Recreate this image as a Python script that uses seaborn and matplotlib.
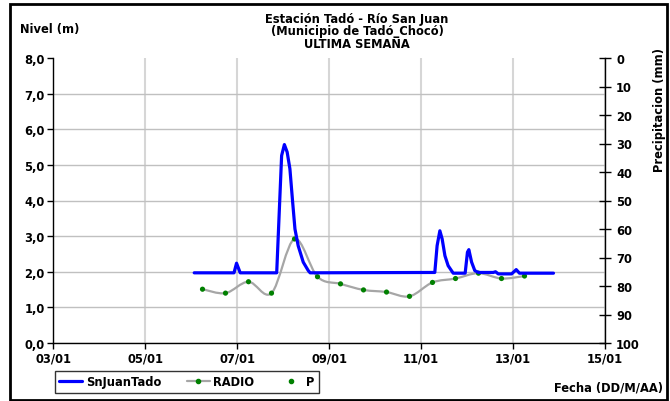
import matplotlib
matplotlib.use("Agg")
import matplotlib.pyplot as plt
import seaborn as sns
from matplotlib.lines import Line2D
from matplotlib.patches import PathPatch, Rectangle
from matplotlib.path import Path
from matplotlib.ticker import FuncFormatter

# nivel SnJuanTado (dia de enero, metros)
sn_dias = [6.07, 6.935, 6.99, 7.07, 7.863, 7.97, 8.03, 8.09, 8.15, 8.21, 8.26, 8.33,
           8.44, 8.55, 8.59, 11.30, 11.35, 11.41, 11.46, 11.52, 11.59, 11.70, 11.96,
           12.01, 12.04, 12.10, 12.17, 12.25, 12.57, 12.62, 12.68, 12.97, 13.07,
           13.14, 13.88]
sn_nivel = [1.97, 1.97, 2.24, 1.97, 1.97, 5.26, 5.57, 5.36, 4.89, 3.95, 3.20, 2.73,
            2.27, 2.03, 1.97, 1.98, 2.73, 3.15, 2.92, 2.45, 2.17, 1.96, 1.96,
            2.55, 2.62, 2.27, 2.03, 1.98, 1.98, 2.00, 1.94, 1.94, 2.06,
            1.96, 1.96]

# nivel RADIO
radio_dias = [6.25, 6.75, 7.25, 7.75, 8.25, 8.75, 9.25, 9.75, 10.25, 10.75,
              11.25, 11.75, 12.25, 12.75, 13.25]
radio_nivel = [1.51, 1.40, 1.72, 1.40, 2.92, 1.86, 1.66, 1.49, 1.43, 1.31,
               1.70, 1.81, 1.96, 1.81, 1.88]

x_ticks = [3, 5, 7, 9, 11, 13, 15]
x_labels = ["03/01", "05/01", "07/01", "09/01", "11/01", "13/01", "15/01"]
precip_ticks = [0, 10, 20, 30, 40, 50, 60, 70, 80, 90, 100]

sns.set_style("white")
plt.rcParams["font.family"] = ["DejaVu Sans"]
plt.rcParams["font.weight"] = "bold"
plt.rcParams["text.color"] = "black"
plt.rcParams["xtick.color"] = "black"
plt.rcParams["ytick.color"] = "black"
fs = 8.3

fig = plt.figure(figsize=(6.7, 4.02), dpi=100)
ax = fig.add_axes([53 / 670, 1 - 344 / 402, 552 / 670, 285 / 402])


def smooth_path(xs, ys):
    # curva suavizada tipo Excel (Catmull-Rom a Bezier)
    pts = list(zip(xs, ys))
    verts = [pts[0]]
    codes = [Path.MOVETO]
    n = len(pts)
    for i in range(n - 1):
        p0 = pts[i - 1] if i > 0 else pts[i]
        p1 = pts[i]
        p2 = pts[i + 1]
        p3 = pts[i + 2] if i + 2 < n else pts[i + 1]
        c1 = (p1[0] + (p2[0] - p0[0]) / 6, p1[1] + (p2[1] - p0[1]) / 6)
        c2 = (p2[0] - (p3[0] - p1[0]) / 6, p2[1] - (p3[1] - p1[1]) / 6)
        verts += [c1, c2, p2]
        codes += [Path.CURVE4] * 3
    return Path(verts, codes)


ax.add_patch(PathPatch(smooth_path(radio_dias, radio_nivel), fill=False,
                       edgecolor="#a6a6a6", lw=1.6, zorder=3))
sns.scatterplot(x=radio_dias, y=radio_nivel, color="#008000", s=14,
                edgecolor="none", zorder=4, ax=ax)
sns.lineplot(x=sn_dias, y=sn_nivel, color="#0000ff", lw=2.3, sort=False,
             zorder=5, ax=ax)

ax.set_xlim(3, 15)
ax.set_ylim(0, 8)
ax.set_xticks(x_ticks)
ax.set_xticklabels(x_labels)
ax.set_yticks(range(0, 9))
ax.yaxis.set_major_formatter(FuncFormatter(lambda v, p: f"{v:.1f}".replace(".", ",")))
ax.tick_params(axis="both", labelsize=fs, length=4, width=1, color="black",
               labelcolor="black", direction="out", left=True, bottom=True, pad=2)
for t in ax.get_xticklabels() + ax.get_yticklabels():
    t.set_fontweight("bold")

ax.grid(True, axis="y", color="#c0c0c0", lw=1)
ax.grid(True, axis="x", color="#d6d6d6", lw=1.5)
ax.yaxis.get_gridlines()[-1].set_visible(False)
for s in ["top", "right"]:
    ax.spines[s].set_visible(False)
for s in ["left", "bottom"]:
    ax.spines[s].set_color("black")
    ax.spines[s].set_linewidth(1)

ax2 = ax.twinx()
ax2.set_ylim(100, 0)
ax2.set_yticks(precip_ticks)
ax2.tick_params(axis="y", labelsize=fs, length=8, width=1, color="black",
                labelcolor="black", direction="inout", right=True, pad=4)
for t in ax2.get_yticklabels():
    t.set_fontweight("bold")
for s in ["top", "left", "bottom"]:
    ax2.spines[s].set_visible(False)
ax2.spines["right"].set_color("black")
ax2.spines["right"].set_linewidth(1)
ax2.grid(False)

fig.text(357 / 670, 1 - 20 / 402, "Estación Tadó - Río San Juan", ha="center",
         va="center", fontsize=fs, fontweight="bold")
fig.text(357 / 670, 1 - 32 / 402, "(Municipio de Tadó_Chocó)", ha="center",
         va="center", fontsize=fs, fontweight="bold")
fig.text(357 / 670, 1 - 44 / 402, "ULTIMA SEMANA", ha="center",
         va="center", fontsize=fs, fontweight="bold")
fig.text(20 / 670, 1 - 30 / 402, "Nivel (m)", ha="left", va="center",
         fontsize=fs, fontweight="bold")
fig.text(660 / 670, 1 - 110 / 402, "Precipitacion (mm)", ha="center",
         va="center", rotation=90, fontsize=fs, fontweight="bold")
fig.text(663 / 670, 1 - 388 / 402, "Fecha (DD/M/AA)", ha="right",
         va="center", fontsize=fs, fontweight="bold")

handles = [
    Line2D([], [], color="#0000ff", lw=2.3),
    Line2D([], [], color="#a6a6a6", lw=1.6, marker="o", ms=3,
           markerfacecolor="#008000", markeredgecolor="#008000"),
    Line2D([], [], color="none", marker="o", ms=3,
           markerfacecolor="#008000", markeredgecolor="#008000"),
]
leg = fig.legend(handles, ["SnJuanTado", "RADIO", "P"], loc="center",
                 bbox_to_anchor=(187 / 670, 1 - 383 / 402), ncol=3,
                 frameon=True, fancybox=False, handlelength=2.0,
                 handletextpad=0.3, columnspacing=2.2, borderpad=0.35,
                 prop={"weight": "bold", "size": fs})
leg.get_frame().set_edgecolor("black")
leg.get_frame().set_linewidth(1)
for t in leg.get_texts():
    t.set_color("black")

fig.patches.append(Rectangle((10 / 670, 1 / 402), 657 / 670, 396 / 402,
                             transform=fig.transFigure, fill=False,
                             edgecolor="black", lw=2))

fig.savefig("out.png", dpi=100)
